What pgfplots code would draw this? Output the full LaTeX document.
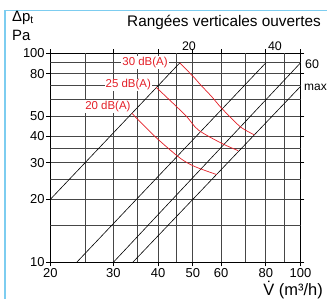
\documentclass[border=0pt]{standalone}
\usepackage{pgfplots}
\pgfplotsset{compat=1.18}
\usepackage{fontspec}
\setmainfont{Liberation Sans}
\definecolor{dbred}{RGB}{228,32,40}
\definecolor{frameblue}{RGB}{125,205,240}
\definecolor{gridc}{RGB}{70,70,70}
\begin{document}
\begin{tikzpicture}[x=1bp,y=1bp]
\useasboundingbox (0,0) rectangle (327,299);
\draw[frameblue, line width=1.4bp] (5,0) -- (5,288.5) -- (327,288.5);
\begin{axis}[
  at={(50.3bp,36.7bp)}, anchor=south west,
  scale only axis, width=250.2bp, height=209bp,
  xmode=log, ymode=log,
  xmin=20, xmax=100, ymin=10, ymax=100,
  xtick={20,30,40,50,60,80,100},
  xticklabels={20,30,40,50,60,80,100},
  ytick={10,20,30,40,50,80,100},
  yticklabels={10,20,30,40,50,80,100},
  minor xtick={}, minor ytick={},
  grid=major,
  major grid style={gridc, line width=0.8bp},
  tick align=outside, major tick length=4bp,
  tick style={black, line width=0.8bp},
  axis line style={black, line width=1bp},
  ticklabel style={font=\fontsize{13}{15}\selectfont},
  xticklabel style={inner sep=1.5bp},
  yticklabel style={inner sep=1.5bp},
]
% unlabeled grid lines
\pgfplotsinvokeforeach{25,35,45,70,90}{\draw[gridc, line width=0.8bp] (axis cs:#1,10) -- (axis cs:#1,100);}
\pgfplotsinvokeforeach{15,25,35,60,70,90}{\draw[gridc, line width=0.8bp] (axis cs:20,#1) -- (axis cs:100,#1);}
% diagonal lines
\addplot[black, line width=0.6bp] coordinates {(20,20) (46.0,90)};
\addplot[black, line width=0.6bp] coordinates {(23.7,10) (80,90)};
\addplot[black, line width=0.6bp] coordinates {(30,10) (100,90)};
\addplot[black, line width=0.6bp] coordinates {(34,10) (100,69.4)};
% dB(A) curves
\addplot[dbred, line width=0.7bp, smooth] coordinates {(46.0,90) (50.7,75.9) (52.4,71.1) (56.5,62.0) (60.2,54.6) (67.0,45.4) (70.0,43.0) (74.3,40.7)};
\addplot[dbred, line width=0.7bp, smooth] coordinates {(39.5,68.8) (47.6,50.7) (51.8,43.0) (60.2,37.1) (67.0,34.2)};
\addplot[dbred, line width=0.7bp, smooth] coordinates {(33.8,51.6) (36.4,45.4) (39.7,39.2) (46.1,31.5) (50.7,28.7) (58.3,26.3)};
\end{axis}
\begin{scope}[every node/.style={inner sep=0pt}]
\node[dbred, fill=white, inner sep=1bp, font=\fontsize{11.5}{13}\selectfont] at (145,236.3) {30 dB(A)};
\node[dbred, fill=white, inner sep=1bp, font=\fontsize{11.5}{13}\selectfont] at (128.3,214) {25 dB(A)};
\node[dbred, fill=white, inner sep=1bp, font=\fontsize{11.5}{13}\selectfont] at (107.9,192.3) {20 dB(A)};
\node[font=\fontsize{12.5}{14}\selectfont] at (189,253) {20};
\node[font=\fontsize{12.5}{14}\selectfont] at (275,253) {40};
\node[anchor=west, font=\fontsize{12.5}{14}\selectfont] at (305,235) {60};
\node[anchor=west, font=\fontsize{12}{14}\selectfont] at (304,212) {max};
\node[anchor=east, font=\fontsize{15.4}{17}\selectfont] at (321,277) {Rangées verticales ouvertes};
\node[anchor=west, font=\fontsize{15}{17}\selectfont] at (12,281) {Δp\textsubscript{t}};
\node[anchor=west, font=\fontsize{15}{17}\selectfont] at (12,264) {Pa};
\node[anchor=east, font=\fontsize{16.5}{18}\selectfont] at (323,9) {\.{V} (m³/h)};
\end{scope}
\end{tikzpicture}
\end{document}
